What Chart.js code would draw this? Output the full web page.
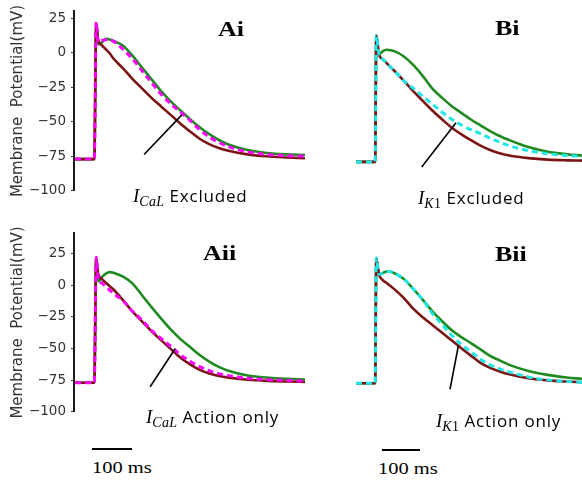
<!DOCTYPE html>
<html>
<head>
<meta charset="utf-8">
<script src="https://cdn.jsdelivr.net/npm/chart.js@4/dist/chart.umd.min.js"></script>
<style>
  body { margin: 0; background: #fff; }
  #wrap { position: relative; width: 582px; height: 481px; overflow: hidden; }
  canvas { position: absolute; }
  .txt { position: absolute; white-space: nowrap; color: #000; }
  .panel { font-family: "Liberation Serif", serif; font-weight: bold; font-size: 20px; line-height: 1; transform: scaleX(1.3); transform-origin: left top; }
  .lab { font-family: "Open Sans", sans-serif; font-size: 17px; line-height: 17px; letter-spacing: 0.8px; }
  .lab .m { font-family: "Liberation Serif", serif; font-style: italic; font-size: 19px; letter-spacing: 0; }
  .lab sub { font-family: "Liberation Serif", serif; font-style: italic; font-size: 14px; vertical-align: -4px; line-height: 0; letter-spacing: 0.3px; }
  .lab sub .up { font-style: normal; }
  .ms { font-family: "Liberation Serif", serif; font-size: 17.5px; line-height: 1; transform: scaleX(1.17); transform-origin: left top; }
  .bar { position: absolute; height: 2px; background: #000; }
</style>
</head>
<body>
<div id="wrap">
  <canvas id="chartAi" width="305" height="206" style="left:0;top:-2px"></canvas>
  <canvas id="chartBi" width="226" height="206" style="left:356px;top:-2px"></canvas>
  <canvas id="chartAii" width="305" height="205" style="left:0;top:220px"></canvas>
  <canvas id="chartBii" width="226" height="205" style="left:356px;top:220px"></canvas>

  <div class="txt panel" style="left:218px;top:19px">Ai</div>
  <div class="txt panel" style="left:495px;top:18px">Bi</div>
  <div class="txt panel" style="left:203px;top:243px">Aii</div>
  <div class="txt panel" style="left:495px;top:244px">Bii</div>

  <div class="txt lab" style="left:133px;top:187px"><span class="m">I</span><sub>CaL</sub> Excluded</div>
  <div class="txt lab" style="left:418px;top:189px"><span class="m">I</span><sub>K<span class="up">1</span></sub> Excluded</div>
  <div class="txt lab" style="left:146px;top:408px"><span class="m">I</span><sub>CaL</sub> Action only</div>
  <div class="txt lab" style="left:436px;top:412px"><span class="m">I</span><sub>K<span class="up">1</span></sub> Action only</div>

  <div class="bar" style="left:92px;top:448px;width:40px"></div>
  <div class="bar" style="left:382px;top:449px;width:38px"></div>
  <div class="txt ms" style="left:92px;top:459px">100 ms</div>
  <div class="txt ms" style="left:378px;top:460px">100 ms</div>
</div>

<script>
// time in ms, voltage in mV
const timeA = [0, 50, 55, 60, 70, 80, 90, 100, 125, 150, 175, 200, 225, 250, 275, 300, 325, 350, 375, 400, 450, 500, 550, 600];
const timeB = [0, 50, 53, 60, 70, 80, 90, 100, 125, 150, 175, 200, 225, 250, 275, 300, 325, 350, 375, 400, 450, 500, 550, 590];

const yTicks = [25, 0, -25, -50, -75, -100];

// Ai: I_CaL excluded
const aiControl = [-77, -77, 20, 6, 7.4, 9.9, 9.5, 8.5, 4.9, -2.4, -11, -19.5, -28.1, -35.4, -41.9, -48.2, -54, -59, -63.2, -66.5, -70.5, -72.6, -73.6, -74];
const aiModel = [-77, -77, 21, 9.5, 5.2, 2.4, -0.5, -4.3, -11.4, -19.2, -26, -32.9, -39.1, -45.2, -51.4, -57, -62.3, -66.2, -69, -71, -73.6, -75, -75.8, -76.4];
const aiTest = [-77, -77, 22, 7.4, 8.8, 9.3, 9.2, 8.1, 2.4, -4.7, -13.4, -21.9, -30.3, -37.2, -43.1, -49.1, -55.7, -61, -65, -68, -71.8, -73.7, -74.5, -75];

// Aii: I_CaL action only
const aiiControl = [-77, -77, 21, 3, 6.3, 9, 10.2, 9.8, 6.6, 1.2, -8.2, -17.6, -26.6, -35.2, -42.6, -48.8, -55.1, -60.3, -64.5, -67.6, -71.3, -73, -73.8, -74.5];
const aiiModel = [-77, -77, 21, 9, 4.7, 1.8, -0.8, -3.5, -11.9, -20.9, -28.8, -36.6, -43.6, -50.5, -57.3, -62.5, -66.8, -69.7, -71.7, -73, -74.6, -75.5, -76, -76.4];
const aiiTest = [-77, -77, 22, 6, 1.6, -1.2, -3.9, -6.6, -12.5, -20.7, -27.7, -35.9, -42.2, -48.5, -55, -60, -64.3, -67.5, -69.8, -71.4, -73.4, -74.5, -75.2, -75.6];

// Bi: I_K1 excluded
const biControl = [-78.5, -78.5, 12, -1.9, 0.6, 1.6, 1.3, 0.6, -3.2, -9.4, -17.4, -26.4, -32.8, -38.7, -43.5, -48.2, -52.4, -56.5, -60, -62.9, -67.9, -71.2, -73, -74];
const biModel = [-78.5, -78.5, 12, -1.9, -5.2, -7.9, -10.7, -13.4, -20.6, -28.1, -35.1, -42, -48.2, -54.1, -58.8, -63, -66.9, -70, -72.3, -73.9, -75.8, -76.9, -77.4, -77.6];
const biTest = [-78.5, -78.5, 12, -1.9, -5.2, -7.9, -10.7, -13.4, -20.6, -26, -31.9, -37.4, -43, -48.1, -52.2, -55.5, -58.3, -61.5, -64.3, -66.9, -70.4, -72.6, -73.9, -74.7];

// Bii: I_K1 action only
const biiControl = [-76.8, -76.8, 20, 8, 9, 10.2, 10, 9, 4.3, -3.5, -12, -21, -28.5, -35.6, -40.9, -45.5, -50.4, -55.5, -59, -62.5, -67.2, -70.3, -72.3, -73.4];
const biiModel = [-76.8, -76.8, 20.6, 8, 3.5, 1.2, -1.1, -3.5, -10.5, -18.9, -25.6, -31.6, -37.5, -43.5, -49.5, -55.3, -60.9, -64.8, -67.6, -69.9, -73, -74.6, -75.5, -76];
const biiTest = [-76.8, -76.8, 21, 8, 9, 10.2, 10, 9, 4.3, -3.5, -12, -22.7, -31, -39.5, -46.5, -52.3, -58.2, -62.5, -65.6, -68, -71.9, -74.2, -75.4, -76];

// pointer lines [start, end]
const aiPointerT = [180, 278.6], aiPointerV = [-73.7, -45];
const biPointerT = [171.5, 261], biPointerV = [-82.1, -50.5];
const aiiPointerT = [195.8, 261], aiiPointerV = [-80.2, -50.2];
const biiPointerT = [245.4, 267.2], biiPointerV = [-81.5, -47.7];

function points(times, values) {
  return times.map((t, i) => ({ x: t, y: values[i] }));
}

function makePanel(id, times, control, model, test, testColor, pTimes, pValues, withAxis, yMax, xMin, xMax) {
  const datasets = [
    { data: points(pTimes, pValues), borderColor: "#000", borderWidth: 1.6, tension: 0 },
    { data: points(times, test), borderColor: testColor, borderWidth: 3, borderDash: [6, 4], cubicInterpolationMode: "monotone" },
    { data: points(times, model), borderColor: "#7d1414", borderWidth: 2.6, cubicInterpolationMode: "monotone" },
    { data: points(times, control), borderColor: "#1f8a1f", borderWidth: 2.6, cubicInterpolationMode: "monotone" },
  ];

  const yScale = {
    min: -100,
    max: yMax,
    display: withAxis,
  };
  if (withAxis) {
    Object.assign(yScale, {
      afterBuildTicks: (s) => { s.ticks = yTicks.map((v) => ({ value: v })); },
      afterFit: (s) => { s.width = 74; },
      border: { display: true, color: "#1a1a1a", width: 2 },
      grid: { display: true, drawOnChartArea: false, drawTicks: true, tickLength: 3, tickColor: "#333", color: "#333" },
      ticks: {
        color: "#333",
        padding: 5,
        font: { family: "DejaVu Sans", size: 13.5 },
        callback: (v) => (v < 0 ? "\u2212" + Math.abs(v) : String(v)),
      },
      title: {
        display: true,
        text: "Membrane  Potential(mV)",
        color: "#333",
        font: { family: "DejaVu Sans", size: 15 },
        padding: { top: 9, bottom: 0 },
      },
    });
  }

  new Chart(document.getElementById(id), {
    type: "line",
    data: { datasets },
    options: {
      responsive: false,
      animation: false,
      events: [],
      layout: { padding: { top: 12, bottom: 12, left: 0, right: 0 } },
      elements: { point: { radius: 0 } },
      plugins: { legend: { display: false }, tooltip: { enabled: false } },
      scales: {
        x: { type: "linear", min: xMin, max: xMax, display: false },
        y: yScale,
      },
    },
  });
}

makePanel("chartAi", timeA, aiControl, aiModel, aiTest, "#ff00ff", aiPointerT, aiPointerV, true, 30, -3, 600);
makePanel("chartBi", timeB, biControl, biModel, biTest, "#1ee6e6", biPointerT, biPointerV, false, 30, 0, 590);
makePanel("chartAii", timeA, aiiControl, aiiModel, aiiTest, "#ff00ff", aiiPointerT, aiiPointerV, true, 41, -3, 600);
makePanel("chartBii", timeB, biiControl, biiModel, biiTest, "#1ee6e6", biiPointerT, biiPointerV, false, 41, 0, 590);
</script>
</body>
</html>
